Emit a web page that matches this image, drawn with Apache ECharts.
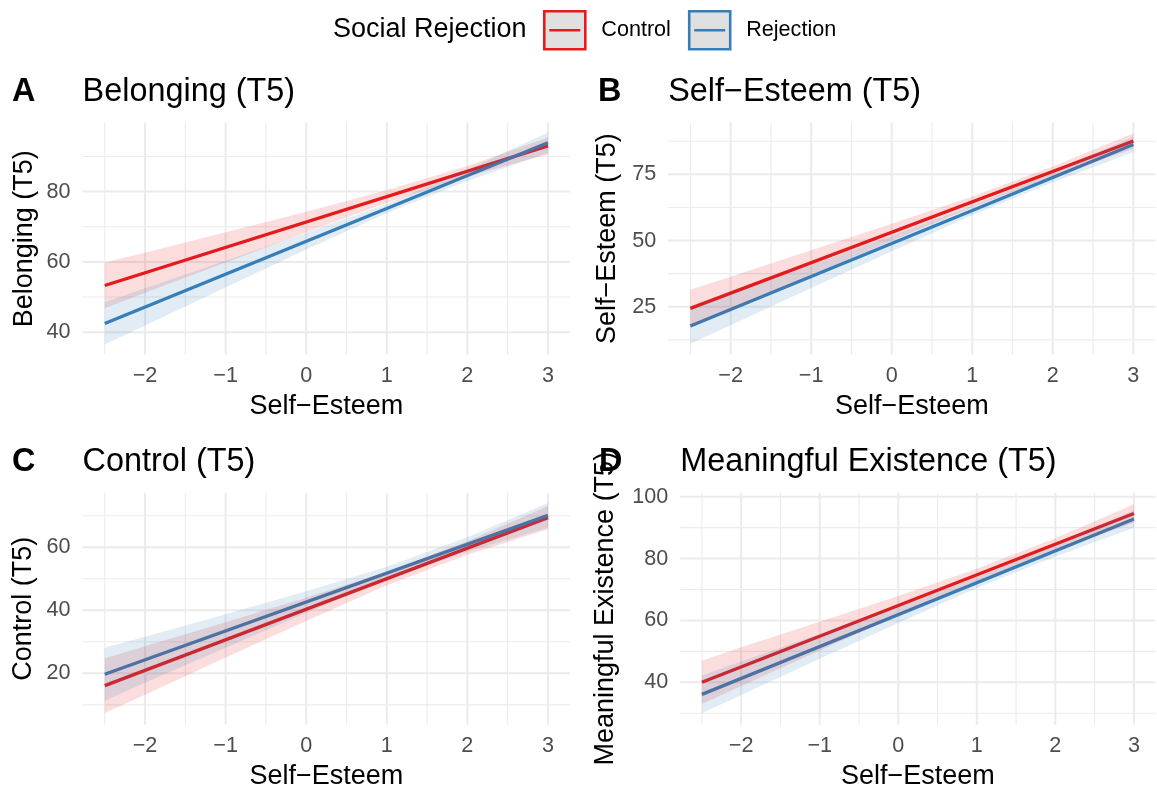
<!DOCTYPE html>
<html><head><meta charset="utf-8">
<script src="https://cdn.jsdelivr.net/npm/echarts@6/dist/echarts.min.js"></script>
<style>html,body{margin:0;padding:0;background:#fff}#c{width:1157px;height:792px}</style>
</head><body><div id="c"></div>
<script>
// ---------- data ----------
const lineX = [-2.5, 3];
const xBand = [-2.5, -2, -1, 0, 1, 2, 3];

// Panel A: Belonging (T5)
const ctrlA = [53.3, 93.0];
const rejA = [42.5, 93.9];
const ctrlA_lo = [46.8, 51.2, 59.8, 68.4, 76.8, 84.3, 90.6];
const ctrlA_hi = [59.8, 62.6, 68.4, 74.3, 80.4, 87.3, 95.4];
const rejA_lo = [36.5, 41.9, 52.7, 63.5, 73.9, 83.0, 91.0];
const rejA_hi = [48.5, 52.5, 60.3, 68.3, 76.5, 86.2, 96.8];

// Panel B: Self-Esteem (T5)
const ctrlB = [24.4, 87.6];
const rejB = [17.7, 86.3];
const ctrlB_lo = [17.4, 23.9, 37.0, 49.9, 62.6, 74.2, 84.7];
const ctrlB_hi = [31.4, 36.3, 46.3, 56.3, 66.6, 78.0, 90.5];
const rejB_lo = [11.0, 18.0, 32.1, 46.0, 59.6, 72.0, 83.3];
const rejB_hi = [24.4, 29.8, 40.7, 51.8, 63.0, 75.6, 89.3];

// Panel C: Control (T5)
const ctrlC = [16.1, 69.4];
const rejC = [19.7, 70.1];
const ctrlC_lo = [7.4, 13.2, 25.0, 36.6, 47.9, 57.6, 65.7];
const ctrlC_hi = [24.8, 28.6, 36.2, 44.0, 52.2, 61.9, 73.1];
const rejC_lo = [11.3, 17.0, 28.1, 39.2, 49.8, 58.6, 66.2];
const rejC_hi = [28.1, 31.6, 38.7, 46.0, 53.8, 63.2, 74.0];

// Panel D: Meaningful Existence (T5)
const ctrlD = [40.0, 94.6];
const rejD = [36.1, 92.8];
const ctrlD_lo = [33.0, 38.8, 50.3, 61.7, 72.7, 82.8, 91.6];
const ctrlD_hi = [47.0, 51.3, 59.6, 67.9, 76.7, 86.6, 97.6];
const rejD_lo = [30.0, 35.9, 47.6, 59.2, 70.5, 80.7, 90.0];
const rejD_hi = [42.2, 46.7, 55.6, 64.6, 73.9, 84.3, 95.6];

// ticks
const xTicks = [-2, -1, 0, 1, 2, 3];
const xMinor = [-2.5, -1.5, -0.5, 0.5, 1.5, 2.5];
const yTicksA = [40, 60, 80];
const yMinorA = [50, 70, 90];
const yTicksB = [25, 50, 75];
const yMinorB = [12.5, 37.5, 62.5, 87.5];
const yTicksC = [20, 40, 60];
const yMinorC = [10, 30, 50, 70];
const yTicksD = [40, 60, 80, 100];
const yMinorD = [30, 50, 70, 90];

// axis limits (visible window)
const xLim = [-2.775, 3.275];
const yLimA = [33.6, 99.6];
const yLimB = [6.9, 94.5];
const yLimC = [3.7, 77.3];
const yLimD = [26.3, 101.3];

// text
const tags = ['A', 'B', 'C', 'D'];
const titles = ['Belonging (T5)', 'Self\u2212Esteem (T5)', 'Control (T5)', 'Meaningful Existence (T5)'];
const yNames = titles;
const xName = 'Self\u2212Esteem';
const groupNames = ['Control', 'Rejection'];
const legendTitle = 'Social Rejection';

// ---------- layout / style ----------
const FONT = '"Liberation Sans", Arial, Helvetica, sans-serif';
const RED = '#E41A1C', BLUE = '#377EB8';
const RED_FILL = 'rgba(228,26,28,0.15)', BLUE_FILL = 'rgba(55,126,184,0.15)';
const GRID_COL = '#EBEBEB';

const grids = [
  {left: 82.6, top: 122.7, width: 487.5, height: 232},
  {left: 668.2, top: 122.7, width: 487.3, height: 232},
  {left: 82.6, top: 492.7, width: 487.5, height: 232},
  {left: 680.3, top: 492.7, width: 475.2, height: 232}
];
const yNameGaps = [45, 47.5, 46, 61.5];
const tagX = [12, 598, 12, 599];
const titleY = [92, 92, 462, 462];

const panelCtrl = [ctrlA, ctrlB, ctrlC, ctrlD];
const panelRej = [rejA, rejB, rejC, rejD];
const bandsCtrl = [[ctrlA_lo, ctrlA_hi], [ctrlB_lo, ctrlB_hi], [ctrlC_lo, ctrlC_hi], [ctrlD_lo, ctrlD_hi]];
const bandsRej = [[rejA_lo, rejA_hi], [rejB_lo, rejB_hi], [rejC_lo, rejC_hi], [rejD_lo, rejD_hi]];
const yLims = [yLimA, yLimB, yLimC, yLimD];
const yMajor = [yTicksA, yTicksB, yTicksC, yTicksD];
const yMinorAll = [yMinorA, yMinorB, yMinorC, yMinorD];

function fmtX(v) { return v < 0 ? '\u2212' + Math.abs(v) : String(v); }

function gridSeries(i) {
  const data = [];
  yMajor[i].forEach(v => data.push([v, 0]));
  yMinorAll[i].forEach(v => data.push([v, 1]));
  xTicks.forEach(v => data.push([v, 2]));
  xMinor.forEach(v => data.push([v, 3]));
  return {
    type: 'custom', xAxisIndex: i, yAxisIndex: i, z: 1, silent: true, name: 'grid' + i,
    data: data,
    renderItem: function (params, api) {
      const v = api.value(0), kind = api.value(1);
      const cs = params.coordSys;
      const lw = (kind === 0 || kind === 2) ? 2 : 1.1;
      if (kind < 2) {
        const y = api.coord([xLim[0], v])[1];
        return {type: 'line', shape: {x1: cs.x, y1: y, x2: cs.x + cs.width, y2: y}, style: {stroke: GRID_COL, lineWidth: lw}};
      }
      const x = api.coord([v, yLims[i][0]])[0];
      return {type: 'line', shape: {x1: x, y1: cs.y, x2: x, y2: cs.y + cs.height}, style: {stroke: GRID_COL, lineWidth: lw}};
    }
  };
}

function bandSeries(i, lo, hi, fill, nm) {
  return {
    type: 'custom', xAxisIndex: i, yAxisIndex: i, z: 3, silent: true, name: nm,
    data: [[xBand[0], lo[0]]],
    renderItem: function (params, api) {
      const pts = [];
      for (let k = 0; k < xBand.length; k++) pts.push(api.coord([xBand[k], hi[k]]));
      for (let k = xBand.length - 1; k >= 0; k--) pts.push(api.coord([xBand[k], lo[k]]));
      return {type: 'polygon', shape: {points: pts}, style: {fill: fill}};
    }
  };
}

function lineSeries(i, vals, color, nm) {
  return {
    type: 'line', name: nm, xAxisIndex: i, yAxisIndex: i, z: 2, silent: true,
    data: lineX.map((x, k) => [x, vals[k]]),
    showSymbol: false, symbol: 'none',
    lineStyle: {color: color, width: 3.3}, itemStyle: {color: color}
  };
}

const series = [];
for (let i = 0; i < 4; i++) {
  series.push(gridSeries(i));
  series.push(lineSeries(i, panelCtrl[i], RED, groupNames[0]));
  series.push(lineSeries(i, panelRej[i], BLUE, groupNames[1]));
  series.push(bandSeries(i, bandsCtrl[i][0], bandsCtrl[i][1], RED_FILL, 'bandC' + i));
  series.push(bandSeries(i, bandsRej[i][0], bandsRej[i][1], BLUE_FILL, 'bandR' + i));
}

const textEls = [];
function txt(x, y, s, font) {
  return {type: 'text', x: x, y: y, silent: true,
    style: {text: s, font: font, fill: '#000', align: 'left', verticalAlign: 'middle', textAlign: 'left', textVerticalAlign: 'middle'}};
}
textEls.push(txt(333, 30, legendTitle, '27px ' + FONT));
for (let i = 0; i < 4; i++) {
  textEls.push(txt(tagX[i], titleY[i], tags[i], 'bold 32.4px ' + FONT));
  textEls.push(txt(grids[i].left, titleY[i], titles[i], '32.4px ' + FONT));
}

const KEY_ICON = 'path://M0,0H41V38H0Z M5,19H36';

const option = {
  animation: false,
  backgroundColor: '#ffffff',
  textStyle: {fontFamily: FONT},
  grid: grids,
  xAxis: grids.map((g, i) => ({
    type: 'value', gridIndex: i, min: xLim[0], max: xLim[1],
    name: xName, nameLocation: 'middle', nameGap: 38,
    nameTextStyle: {fontSize: 27, color: '#000', fontFamily: FONT},
    axisLine: {show: false}, axisTick: {show: false}, splitLine: {show: false},
    axisLabel: {customValues: xTicks, formatter: fmtX, fontSize: 21.6, color: '#4D4D4D', margin: 10, fontFamily: FONT}
  })),
  yAxis: grids.map((g, i) => ({
    type: 'value', gridIndex: i, min: yLims[i][0], max: yLims[i][1],
    name: yNames[i], nameLocation: 'middle', nameGap: yNameGaps[i], nameRotate: 90,
    nameTextStyle: {fontSize: 27, color: '#000', fontFamily: FONT},
    axisLine: {show: false}, axisTick: {show: false}, splitLine: {show: false},
    axisLabel: {customValues: yMajor[i], fontSize: 21.6, color: '#4D4D4D', margin: 12, fontFamily: FONT}
  })),
  legend: {
    left: 543, top: 10, padding: 0, itemWidth: 41, itemHeight: 38, itemGap: 17, selectedMode: false,
    textStyle: {fontSize: 21.6, color: '#000', fontFamily: FONT, padding: [0, 0, 0, 11]},
    data: [
      {name: groupNames[0], icon: KEY_ICON, itemStyle: {color: '#E0E0E0', borderColor: RED, borderWidth: 2.6}},
      {name: groupNames[1], icon: KEY_ICON, itemStyle: {color: '#E0E0E0', borderColor: BLUE, borderWidth: 2.6}}
    ]
  },
  graphic: {elements: textEls},
  series: series
};

const chart = echarts.init(document.getElementById('c'), null, {renderer: 'canvas'});
chart.setOption(option);
</script>
</body></html>
